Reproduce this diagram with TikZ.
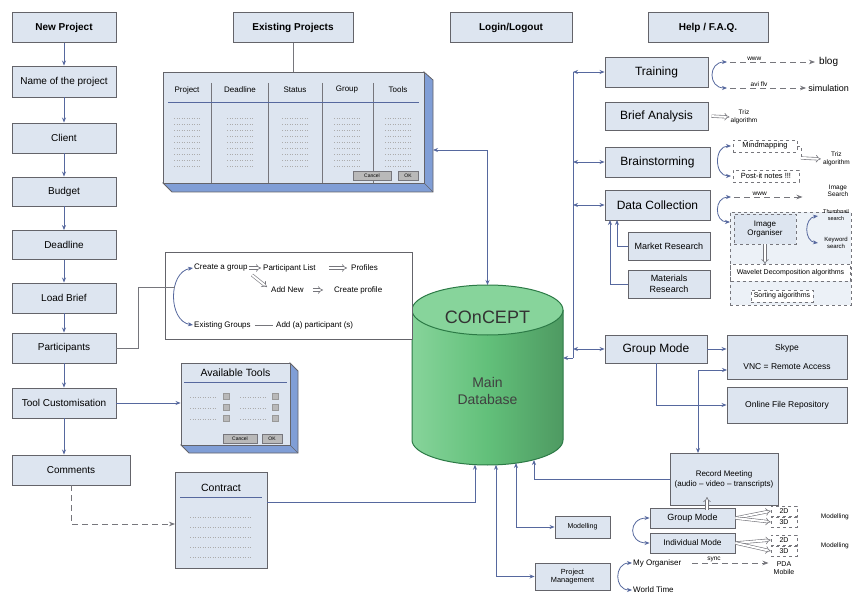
\documentclass[tikz,border=0pt]{standalone}
\usepackage{fontspec}
\setmainfont{Liberation Sans}
\usetikzlibrary{arrows.meta,calc}
\definecolor{boxfill}{RGB}{221,229,240}
\definecolor{boxline}{RGB}{100,100,106}
\definecolor{arrc}{RGB}{86,104,158}
\definecolor{linec}{RGB}{118,118,124}
\definecolor{sidec}{RGB}{128,158,214}
\definecolor{dbfill}{RGB}{98,192,122}
\definecolor{dblight}{RGB}{150,220,168}
\definecolor{dbtop}{RGB}{135,212,155}
\definecolor{dbline}{RGB}{44,122,70}
\tikzset{
 bx/.style={draw=boxline, fill=boxfill, line width=0.9pt, inner sep=1pt, align=center, font=\fontsize{10}{12}\selectfont},
 hdr/.style={bx, font=\bfseries\fontsize{10}{12}\selectfont},
 rbx/.style={bx, font=\fontsize{12}{14}\selectfont},
 arr/.style={draw=arrc, line width=0.8pt, -{Stealth[length=5pt,width=4pt]}},
 darr/.style={draw=arrc, line width=0.8pt, {Stealth[length=5pt,width=4pt]}-{Stealth[length=5pt,width=4pt]}},
 ln/.style={draw=linec, line width=0.8pt},
 dsh/.style={draw=linec, line width=0.8pt, dash pattern=on 6pt off 4pt, -{Stealth[length=6pt,width=4.5pt]}},
 hol/.style={draw=linec, double=white, double distance=2pt, line width=0.6pt, -{Implies}},
 txt/.style={inner sep=1pt, align=center, font=\fontsize{8}{9}\selectfont},
 sm/.style={inner sep=1pt, align=center, font=\fontsize{6.5}{7.5}\selectfont},
 dbx/.style={draw=linec, dashed, fill=white, line width=0.6pt, inner sep=1pt, align=center, font=\fontsize{7.5}{8.5}\selectfont},
 btn/.style={draw=linec, fill=gray!55, font=\fontsize{5}{6}\selectfont, inner sep=0.5pt, minimum height=9pt},
 dts/.style={draw=gray!65, line width=0.5pt, dotted},
 sq/.style={draw=gray!80, fill=gray!55, minimum size=6pt, inner sep=0pt},
}
\begin{document}
\begin{tikzpicture}[x=1pt,y=-1pt]
\fill[white] (0,0) rectangle (852,596);
\useasboundingbox (0,0) rectangle (852,596);

% ---------- left column ----------
\node[hdr, minimum width=104pt, minimum height=30pt] (np) at (64,27.5) {New Project};
\node[bx, minimum width=104pt, minimum height=31pt] (nm) at (64,81.5) {Name of the project};
\node[bx, minimum width=104pt, minimum height=30pt] (cl) at (64,138) {Client};
\node[bx, minimum width=104pt, minimum height=29pt] (bu) at (64,191.5) {Budget};
\node[bx, minimum width=104pt, minimum height=29pt] (dl) at (64,245) {Deadline};
\node[bx, minimum width=104pt, minimum height=30pt] (lb) at (64,298) {Load Brief};
\node[bx, minimum width=104pt, minimum height=30pt] (pa) at (64,348) {Participants};
\node[bx, minimum width=104pt, minimum height=30pt] (tc) at (64,403) {Tool Customisation};
\node[bx, minimum width=118pt, minimum height=30pt] (cm) at (71,470) {Comments};
\draw[arr] (np) -- (nm);
\draw[arr] (nm) -- (cl);
\draw[arr] (cl) -- (bu);
\draw[arr] (bu) -- (dl);
\draw[arr] (dl) -- (lb);
\draw[arr] (lb) -- (pa);
\draw[arr] (pa) -- (tc);
\draw[arr] (tc.south) -- (tc.south |- cm.north);

% ---------- top headers ----------
\node[hdr, minimum width=120pt, minimum height=30pt] (ephd) at (293,27.5) {Existing Projects};
\node[hdr, minimum width=122pt, minimum height=30pt] (lg) at (511,27.5) {Login/Logout};
\node[hdr, minimum width=120pt, minimum height=30pt] (hp) at (708,27.5) {Help / F.A.Q.};

% ---------- existing projects table ----------
\filldraw[fill=sidec, draw=boxline, line width=0.8pt] (424,72) -- (433,80) -- (433,192) -- (172,192) -- (163,183) -- (424,183) -- cycle;
\draw[boxline, line width=0.6pt] (424,183) -- (433,192);
\node[draw=boxline, fill=boxfill, line width=0.9pt, minimum width=261pt, minimum height=111pt, inner sep=0pt] (ept) at (293.5,127.5) {};
\draw[ln] (ephd.south) -- (ephd.south |- ept.north);
\node[txt] (cP) at (187,90) {Project};
\node[txt] (cD) at (240,90) {Deadline};
\node[txt] (cS) at (295,90) {Status};
\node[txt] (cG) at (347,90) {Group};
\node[txt] (cT) at (398,90) {Tools};
\foreach \sx in {211,268,322,373} \draw[linec, line width=0.8pt] (\sx,83) -- (\sx,183);
\draw[arrc, line width=1pt] (168,103) -- (419,103);
\foreach \cx in {187,240,295,347,398}
  \foreach \yy in {118,124,...,166} \draw[dts] (\cx-13,\yy) -- (\cx+13,\yy);
\node[btn, minimum width=38pt] (bc1) at (372,176) {Cancel};
\node[btn, minimum width=20pt] (bo1) at (408,176) {OK};

% ---------- database cylinder ----------
\shade[left color=dblight!70!dbfill, right color=dbfill!80!black, middle color=dbfill] (412,310) -- (412,440) arc[start angle=180, end angle=0, x radius=75.5, y radius=25] -- (563,310) -- cycle;
\draw[dbline, line width=1pt] (412,310) -- (412,440) arc[start angle=180, end angle=0, x radius=75.5, y radius=25] -- (563,310);
\filldraw[fill=dbtop, draw=dbline, line width=1pt] (487.5,310) ellipse[x radius=75.5, y radius=25];
\node[font=\fontsize{18}{20}\selectfont, text=black!80] (dbn) at (487.5,317) {COnCEPT};
\node[align=center, font=\fontsize{14}{17}\selectfont, text=black!75] (dbm) at (487.5,391) {Main\\Database};
\coordinate (dbT) at (487.5,285);
\coordinate (dbR) at (563,358);
\coordinate (dbB1) at (475,464.7);
\coordinate (dbB2) at (496,464.8);
\coordinate (dbB3) at (516,463);
\coordinate (dbB4) at (534,460);
\coordinate (eptR) at (433,150);
\draw[darr] (eptR) -| (dbT);

% ---------- participants ----------
\node[draw=boxline, line width=1pt, fill=white, minimum width=247pt, minimum height=86pt, inner sep=0pt] (pbox) at (288.5,296) {};
\node[txt, anchor=west] (cg) at (193,268) {Create a group};
\node[txt, anchor=west] (pl) at (262,268) {Participant List};
\node[txt, anchor=west] (pf) at (350,268) {Profiles};
\node[txt, anchor=west] (an) at (270,290) {Add New};
\node[txt, anchor=west] (cp) at (333,290) {Create profile};
\node[txt, anchor=west] (eg) at (193,325) {Existing Groups};
\node[txt, anchor=west] (ap) at (275,325) {Add (a) participant (s)};
\draw[hol, shorten >=1pt] (cg.east) -- (pl.west);
\draw[hol, shorten <=12pt, shorten >=3pt] (pl.east) -- (pf.west);
\coordinate (dgA) at (252,275);
\coordinate (dgB) at (267,287);
\draw[hol] (dgA) -- (dgB);
\draw[hol, shorten <=8pt, shorten >=10pt] (an.east) -- (cp.west);
\draw[ln, line width=0.6pt, shorten <=3pt, shorten >=2pt] (eg.east) -- (ap.west);
\draw[darr] (cg.west) .. controls (168,272) and (168,321) .. (eg.west);
\coordinate (pj) at (138,287);
\coordinate (pk) at (175,287);
\draw[ln] (pa.east) -| (pj) -- (pk);

% ---------- available tools ----------
\filldraw[fill=sidec, draw=boxline, line width=0.8pt] (290,363) -- (298,371) -- (298,453) -- (189,453) -- (181,445) -- (290,445) -- cycle;
\draw[boxline, line width=0.6pt] (290,445) -- (298,453);
\node[draw=boxline, fill=boxfill, line width=0.9pt, minimum width=109pt, minimum height=82pt, inner sep=0pt] (avt) at (235.5,404) {};
\node[font=\fontsize{10.5}{12}\selectfont] (avtt) at (235.5,373) {Available Tools};
\draw[arrc, line width=0.9pt] (184,382) -- (287,382);
\foreach \yy [count=\i] in {397,408,419} {
  \draw[dts] (190,\yy) -- (217,\yy);
  \draw[dts] (240,\yy) -- (267,\yy);
  \node[sq] (sqa\i) at (226,\yy-1) {};
  \node[sq] (sqb\i) at (275,\yy-1) {};
}
\node[btn, minimum width=34pt] (bc2) at (240,439) {Cancel};
\node[btn, minimum width=20pt] (bo2) at (272,439) {OK};
\draw[arr] (tc.east) -- (tc.east -| avt.west);

% ---------- contract ----------
\node[draw=boxline, fill=boxfill, line width=0.9pt, minimum width=92pt, minimum height=96pt, inner sep=0pt] (ct) at (221,520) {};
\node[font=\fontsize{10.5}{12}\selectfont] (ctt) at (221,488) {Contract};
\draw[arrc, line width=0.9pt] (180,497) -- (262,497);
\foreach \yy in {517,527,537,547,557} \draw[dts] (190,\yy) -- (252,\yy);
\coordinate (ctW) at (175,524);
\coordinate (ctE) at (267,502);
\draw[dsh] (cm.south) |- (ctW);
\draw[arr] (ctE) -| (dbB1);

% ---------- right side boxes ----------
\node[rbx, minimum width=103pt, minimum height=30pt] (tr) at (656.5,72) {Training};
\node[rbx, minimum width=103pt, minimum height=28pt] (ba) at (656.5,116) {Brief Analysis};
\node[rbx, minimum width=105pt, minimum height=30pt] (bs) at (657.5,162) {Brainstorming};
\node[rbx, minimum width=105pt, minimum height=30pt] (dc) at (657.5,205) {Data Collection};
\node[bx, font=\fontsize{9}{10.5}\selectfont, minimum width=82pt, minimum height=28pt] (mr) at (669,246) {Market Research};
\node[bx, font=\fontsize{9}{10.5}\selectfont, minimum width=82pt, minimum height=28pt] (mat) at (669,284) {Materials\\Research};
\node[rbx, minimum width=102pt, minimum height=28pt] (gm) at (656,349) {Group Mode};

\coordinate (busT) at (573,72);
\coordinate (busB) at (573,358);
\draw[arrc, line width=0.8pt] (busT) -- (busB);
\draw[arr] (busB) -- (dbR);
\draw[darr] (busT) -- (tr.west);
\draw[darr] (busT |- bs.west) -- (bs.west);
\draw[darr] (busT |- dc.west) -- (dc.west);
\draw[darr] (busT |- gm.west) -- (gm.west);
\coordinate (dcS1) at (617,220);
\coordinate (dcS2) at (610,220);
\draw[arr] (mr.west) -| (dcS1);
\draw[arr] (mat.west) -| (dcS2);

% training
\coordinate (trA) at (727,62);
\coordinate (trB) at (727,88);
\draw[darr] (trA) .. controls (708,62) and (708,88) .. (trB);
\node[anchor=west, inner sep=1pt, font=\fontsize{10}{12}\selectfont] (blog) at (818,62) {blog};
\node[anchor=east, inner sep=1pt, font=\fontsize{9}{11}\selectfont] (sim) at (850,88) {simulation};
\draw[dsh, shorten <=3pt, shorten >=3pt] (trA) -- (blog.west) node[pos=0.3, above, sm] {www};
\draw[dsh, shorten <=3pt, shorten >=1pt] (trB) -- (sim.west) node[pos=0.4, above, sm] {avi flv};

% brief analysis
\node[sm] (tz1) at (744,117) {Triz\\algorithm};
\draw[hol, shorten <=3pt] (ba.east) -- (tz1.west);

% brainstorming
\coordinate (bsA) at (731,146);
\coordinate (bsB) at (731,176);
\draw[darr] (bsA) .. controls (714,146) and (714,176) .. (bsB);
\node[dbx, minimum width=64pt, minimum height=12pt] (mm) at (765,146) {Mindmapping};
\node[dbx, minimum width=66pt, minimum height=12pt] (pin) at (766,176) {Post-it notes !!!};
\node[sm, anchor=east] (tz2) at (851,159) {Triz\\algorithm};
\coordinate (bsC) at (801,158);
\draw[linec, dashed, line width=0.6pt] (mm.east) -| (bsC);
\draw[hol, shorten >=1pt] (bsC) -- (tz2.west);

% data collection
\coordinate (dcA) at (731,197);
\coordinate (dcB) at (730,222);
\draw[darr] (dcA) .. controls (714,197) and (714,222) .. (dcB);
\node[sm] (isr) at (838,191) {Image\\Search};
\draw[dsh, shorten <=3pt, shorten >=24pt] (dcA) -- (isr.west |- dcA) node[pos=0.3, above, sm] {www};
\node[dbx, fill=boxfill!55, minimum width=121pt, minimum height=93pt] (big) at (790.5,258.5) {};
\node[dbx, fill=boxfill, minimum width=62pt, minimum height=30pt, font=\fontsize{8}{9}\selectfont] (io) at (765,229) {Image\\Organiser};
\coordinate (ioA) at (818,216);
\coordinate (ioB) at (818,243);
\draw[darr] (ioA) .. controls (804,218) and (804,241) .. (ioB);
\node[inner sep=1pt, align=center, font=\fontsize{5.5}{6.5}\selectfont] (ths) at (836,215) {Thumbnail\\search};
\node[inner sep=1pt, align=center, font=\fontsize{6}{7}\selectfont] (kws) at (836,243) {Keyword\\search};
\node[dbx, minimum width=120pt, minimum height=17pt, font=\fontsize{7}{8}\selectfont] (wav) at (790.5,273) {Wavelet Decomposition algorithms};
\draw[hol] (io.south) -- (io.south |- wav.north);
\node[dbx, minimum width=62pt, minimum height=12pt, font=\fontsize{7}{8}\selectfont] (sort) at (782,296) {Sorting algorithms};

% group mode
\node[bx, font=\fontsize{8.5}{10}\selectfont, minimum width=120pt, minimum height=44pt] (sky) at (787,357) {Skype\\[9pt]VNC = Remote Access};
\node[bx, font=\fontsize{8.5}{10}\selectfont, minimum width=120pt, minimum height=36pt] (ofr) at (787,405) {Online File Repository};
\draw[arr] (gm.east) -- (gm.east -| sky.west);
\draw[arr] (gm.south) |- (ofr.west);

% record meeting
\node[bx, font=\fontsize{8}{10}\selectfont, minimum width=108pt, minimum height=52pt] (rec) at (724,479) {Record Meeting\\(audio -- video -- transcripts)};
\coordinate (skL) at (727,370);
\coordinate (recT) at (698,453);
\draw[darr] (recT) |- (skL);
\draw[arr] (rec.west) -| (dbB4);

% modelling
\node[bx, font=\fontsize{7}{8}\selectfont, minimum width=55pt, minimum height=22pt] (mod) at (582.5,527) {Modelling};
\node[bx, font=\fontsize{9}{10}\selectfont, minimum width=85pt, minimum height=20pt] (gm2) at (692.5,518) {Group Mode};
\node[bx, font=\fontsize{8.3}{10}\selectfont, minimum width=85pt, minimum height=20pt] (ind) at (692.5,543) {Individual Mode};
\draw[darr] (dbB3) |- (mod.west);
\draw[darr] (gm2.west) .. controls (628,518) and (628,543) .. (ind.west);
\coordinate (upA) at (707,510);
\coordinate (upB) at (707,497);
\draw[hol] (upA) -- (upB);
\node[dbx, minimum width=26pt, minimum height=10pt, font=\fontsize{7}{8}\selectfont] (d2a) at (784,511) {2D};
\node[dbx, minimum width=26pt, minimum height=10pt, font=\fontsize{7}{8}\selectfont] (d3a) at (784,522) {3D};
\node[dbx, minimum width=26pt, minimum height=10pt, font=\fontsize{7}{8}\selectfont] (d2b) at (784,540) {2D};
\node[dbx, minimum width=26pt, minimum height=10pt, font=\fontsize{7}{8}\selectfont] (d3b) at (784,551) {3D};
\draw[hol] (gm2.east) -- (d2a.west);
\draw[hol] (gm2.east) -- (d3a.west);
\draw[hol] (ind.east) -- (d2b.west);
\draw[hol] (ind.east) -- (d3b.west);
\node[anchor=east, inner sep=1pt, font=\fontsize{6.5}{8}\selectfont] (mo1) at (850,517) {Modelling};
\node[anchor=east, inner sep=1pt, font=\fontsize{6.5}{8}\selectfont] (mo2) at (850,546) {Modelling};

% project management
\node[bx, font=\fontsize{7.4}{8.5}\selectfont, minimum width=75pt, minimum height=27pt] (pm) at (572.5,576.5) {Project\\Management};
\draw[darr] (dbB2) |- (pm.west);
\node[txt, anchor=west] (myo) at (632,563) {My Organiser};
\node[txt, anchor=west] (wt) at (632,590) {World Time};
\draw[darr] (myo.west) .. controls (614,563) and (614,590) .. (wt.west);
\node[inner sep=1pt, align=center, font=\fontsize{7}{8.5}\selectfont] (pda) at (784,568) {PDA\\Mobile};
\draw[dsh, shorten <=10pt, shorten >=4pt] (myo.east) -- (pda.west |- myo.east) node[pos=0.35, above, sm] {sync};
\end{tikzpicture}
\end{document}
